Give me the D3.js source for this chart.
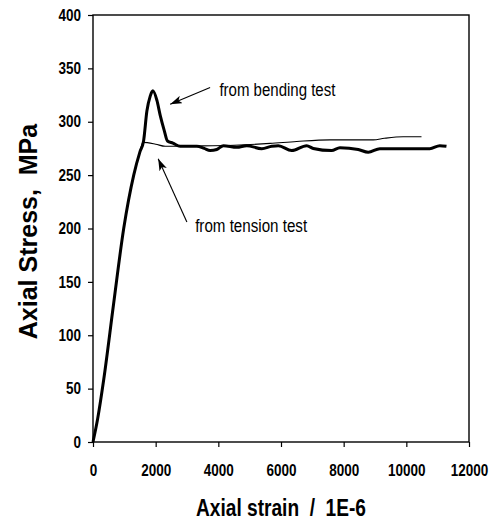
<!DOCTYPE html>
<html>
<head>
<meta charset="utf-8">
<script src="https://cdn.jsdelivr.net/npm/d3@7"></script>
<style>
  body { margin: 0; background: #fff; }
  svg { display: block; }
</style>
</head>
<body>
<div id="chart"></div>
<script>
// bending test curve (thick)
const bendStrain = [0, 150, 340, 660, 980, 1300, 1500, 1614, 1720, 1826, 1912, 2040, 2145, 2272, 2377, 2550, 2782, 3314, 3550, 3738, 3950, 4162, 4589, 4907, 5386, 5705, 5915, 6341, 6819, 7030, 7615, 7881, 8465, 8784, 9156, 10749, 11068, 11281];
const bendStress = [0, 22, 58, 130, 200, 250, 272, 282, 310, 324, 329, 320, 306, 292, 282, 280, 277, 277, 275, 273, 274, 277.6, 276, 277.6, 274.8, 277, 277.6, 273, 277.6, 275, 273, 275.7, 274, 271.5, 274.8, 274.8, 277.6, 277];

// tension test curve (thin)
const tensStrain = [0, 150, 340, 660, 980, 1300, 1500, 1593, 2000, 2304, 3300, 4500, 5650, 6500, 7562, 8943, 9300, 9898, 10484];
const tensStress = [0, 22, 58, 130, 200, 250, 272, 280.7, 279, 277, 277.3, 278, 279.7, 281.5, 283, 283, 284.5, 286, 286];

const xTicks = [0, 2000, 4000, 6000, 8000, 10000, 12000];
const yTicks = [0, 50, 100, 150, 200, 250, 300, 350, 400];

const width = 499, height = 520;
const margin = { top: 15, right: 30, bottom: 78, left: 93 };
const sans = "'Liberation Sans', Arial, sans-serif";

const svg = d3.select("#chart").append("svg")
  .attr("width", width)
  .attr("height", height);

const x = d3.scaleLinear().domain([0, 12000]).range([margin.left, width - margin.right]);
const y = d3.scaleLinear().domain([0, 400]).range([height - margin.bottom, margin.top]);

// axes
const xAxis = svg.append("g")
  .attr("transform", `translate(0,${height - margin.bottom})`)
  .call(d3.axisBottom(x).tickValues(xTicks).tickSize(5).tickPadding(18).tickFormat(d3.format("d")));

const yAxis = svg.append("g")
  .attr("transform", `translate(${margin.left},0)`)
  .call(d3.axisLeft(y).tickValues(yTicks).tickSize(5).tickPadding(7));

// labels in the source are condensed, so squeeze them to the measured width
[xAxis, yAxis].forEach(g => {
  g.select(".domain").remove();
  g.selectAll("line").attr("stroke", "#000").attr("stroke-width", 1.2);
  g.selectAll("text")
    .attr("fill", "#000")
    .style("font-family", sans)
    .style("font-weight", "bold")
    .style("font-size", "16px")
    .attr("textLength", d => String(d).length * 7.5)
    .attr("lengthAdjust", "spacingAndGlyphs");
});

// plot frame
svg.append("rect")
  .attr("x", x(0))
  .attr("y", y(400))
  .attr("width", x(12000) - x(0))
  .attr("height", y(0) - y(400))
  .attr("fill", "none")
  .attr("stroke", "#000")
  .attr("stroke-width", 1.4);

// curves
const line = d3.line()
  .x(d => x(d[0]))
  .y(d => y(d[1]))
  .curve(d3.curveMonotoneX);

svg.append("path")
  .datum(tensStrain.map((s, i) => [s, tensStress[i]]))
  .attr("d", line)
  .attr("fill", "none")
  .attr("stroke", "#000")
  .attr("stroke-width", 1.1);

svg.append("path")
  .datum(bendStrain.map((s, i) => [s, bendStress[i]]))
  .attr("d", line)
  .attr("fill", "none")
  .attr("stroke", "#000")
  .attr("stroke-width", 3)
  .attr("stroke-linejoin", "round");

// annotations
svg.append("defs").append("marker")
  .attr("id", "arrow")
  .attr("viewBox", "0 0 12 8")
  .attr("refX", 12)
  .attr("refY", 4)
  .attr("markerWidth", 12)
  .attr("markerHeight", 8)
  .attr("markerUnits", "userSpaceOnUse")
  .attr("orient", "auto")
  .append("path")
  .attr("d", "M0,0 L12,4 L0,8 L3,4 Z")
  .attr("fill", "#000");

const notes = [
  { text: "from bending test", tx: 4034, ty: 324.3, len: 116, from: [3738, 332], to: [2463, 316.5] },
  { text: "from tension test", tx: 3260, ty: 196.5, len: 112, from: [2996, 206], to: [2081, 265.4] }
];

notes.forEach(n => {
  svg.append("line")
    .attr("x1", x(n.from[0])).attr("y1", y(n.from[1]))
    .attr("x2", x(n.to[0])).attr("y2", y(n.to[1]))
    .attr("stroke", "#000")
    .attr("stroke-width", 1.1)
    .attr("marker-end", "url(#arrow)");
  svg.append("text")
    .attr("x", x(n.tx))
    .attr("y", y(n.ty))
    .attr("textLength", n.len)
    .attr("lengthAdjust", "spacingAndGlyphs")
    .style("font-family", sans)
    .style("font-size", "18px")
    .attr("fill", "#000")
    .text(n.text);
});

// axis titles
svg.append("text")
  .attr("x", (x(0) + x(12000)) / 2 - 85)
  .attr("y", 516)
  .attr("textLength", 170)
  .attr("lengthAdjust", "spacingAndGlyphs")
  .style("font-family", sans)
  .style("font-weight", "bold")
  .style("font-size", "23px")
  .style("white-space", "pre")
  .text("Axial strain  /  1E-6");

svg.append("text")
  .attr("transform", `translate(37,${(y(0) + y(400)) / 2 + 3}) rotate(-90)`)
  .attr("text-anchor", "middle")
  .style("font-family", sans)
  .style("font-weight", "bold")
  .style("font-size", "25px")
  .style("white-space", "pre")
  .text("Axial Stress,  MPa");
</script>
</body>
</html>
